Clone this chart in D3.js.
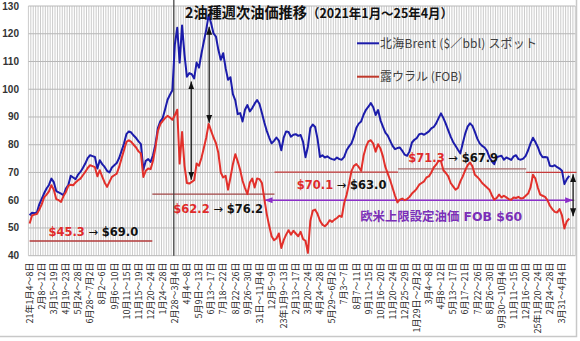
<!DOCTYPE html>
<html><head><meta charset="utf-8">
<script src="https://cdn.jsdelivr.net/npm/d3@7"></script>
<style>
html,body{margin:0;padding:0;background:#fff;}
svg{display:block;}
</style></head><body>
<svg id="chart" width="580" height="341"></svg>
<script>
// Weekly averages, $/bbl, from the week of 4–8 Jan 2021
const brent = [
  54.6, 55.5, 55.3, 55.6, 58.5, 60.5, 62.5, 64.2, 65.5, 67.8,
  66.5, 63.3, 62.8, 62.4, 61.8, 64.2, 65.5, 68.8, 68.2, 67.6,
  69.2, 70.2, 71.6, 73.2, 75.2, 76.2, 75.9, 75.6, 71.4, 74.4,
  73.0, 72.0, 70.6, 70.0, 71.8, 72.6, 73.4, 75.2, 77.8, 80.4,
  83.8, 84.8, 84.4, 83.3, 82.4, 81.2, 80.2, 71.0, 74.2, 74.8,
  73.8, 76.2, 80.2, 86.0, 88.4, 89.6, 92.8, 96.2, 98.0, 99.6,
  116.0, 122.2, 109.6, 123.0, 112.5, 104.5, 105.8, 105.4, 103.9, 109.6,
  107.8, 112.8, 117.2, 121.5, 126.8, 123.8, 120.1, 119.0, 114.2, 110.6,
  113.0, 107.6, 103.4, 104.3, 98.2, 96.0, 91.0, 91.4, 88.4, 92.6,
  94.3, 92.0, 93.2, 94.8, 96.1, 94.7, 91.4, 88.0, 85.0, 82.6,
  80.5, 81.4, 82.6, 81.5, 78.0, 82.6, 84.8, 84.6, 82.9, 83.6,
  83.8, 83.2, 83.5, 81.0, 75.5, 79.3, 86.0, 87.3, 86.4, 82.0,
  75.6, 76.2, 75.4, 75.8, 75.2, 74.8, 74.6, 75.4, 74.8, 74.6,
  75.6, 78.0, 79.4, 80.5, 82.9, 86.0, 87.6, 88.4, 90.8, 92.6,
  93.7, 95.0, 93.5, 90.7, 92.5, 88.8, 86.5, 84.4, 83.3, 81.4,
  79.6, 78.4, 78.8, 79.0, 77.8, 76.4, 76.0, 77.6, 80.8, 81.8,
  82.4, 83.8, 84.0, 83.6, 84.2, 84.8, 85.9, 86.4, 87.7, 89.6,
  91.3, 89.6, 87.5, 85.2, 82.9, 81.0, 79.6, 78.2, 76.9, 80.5,
  84.0, 86.5, 87.7, 86.8, 84.6, 82.2, 80.5, 79.6, 79.0, 77.8,
  75.5, 74.0, 73.0, 75.5, 75.8, 76.0, 74.6, 75.4, 75.0, 74.5,
  75.8, 76.2, 74.8, 74.6, 75.0, 76.0, 78.0, 80.5, 82.5, 81.0,
  79.2, 76.8, 75.5, 75.6, 75.4, 72.4, 72.2, 72.6, 71.9, 71.4,
  70.6, 65.8, 67.6, 68.8
];
const urals = [
  51.6, 54.5, 54.8, 55.0, 56.6, 58.5, 61.0, 62.0, 63.2, 65.4,
  63.8, 60.4, 60.0, 59.4, 61.5, 63.0, 65.2, 65.6, 65.4, 66.4,
  67.2, 67.8, 69.0, 70.2, 71.6, 72.6, 72.3, 71.9, 68.6, 70.8,
  68.5, 66.4, 64.8, 66.6, 68.4, 69.0, 69.6, 72.0, 75.0, 78.0,
  81.0, 81.6, 81.0, 80.0, 79.0, 77.6, 76.8, 68.4, 70.6, 71.4,
  71.2, 74.2, 79.0, 85.0, 87.4, 88.6, 89.6, 90.4, 89.8, 89.0,
  90.6, 92.6, 73.2, 84.6, 72.5, 66.2, 66.0, 66.6, 67.2, 73.2,
  72.4, 75.2, 78.8, 82.6, 87.5, 85.0, 82.6, 80.6, 77.0, 70.0,
  68.2, 68.8, 63.8, 68.2, 73.0, 76.6, 74.0, 71.0, 67.0, 64.4,
  62.2, 66.4, 67.8, 64.6, 67.8, 67.6, 66.2, 60.5, 55.0, 50.8,
  47.0, 45.6, 46.2, 48.0, 42.8, 45.6, 47.6, 49.2, 47.6, 49.0,
  48.0, 47.0, 48.6, 46.0, 45.4, 41.0, 52.5, 56.2, 56.6, 55.0,
  52.6, 51.2, 50.6, 51.4, 52.8, 52.2, 53.0, 53.6, 54.4, 54.0,
  59.0, 62.0, 66.0, 70.5, 72.4, 73.0, 72.0, 70.6, 76.0, 79.2,
  81.2, 81.6, 80.4, 77.5, 80.2, 78.6, 75.8, 72.0, 69.6, 67.2,
  64.4, 61.6, 59.2, 60.2, 60.6, 60.0, 60.4, 61.2, 62.4, 63.2,
  64.2, 65.6, 66.2, 66.8, 68.2, 68.6, 70.0, 71.8, 72.8, 74.2,
  74.0, 70.8, 69.8, 68.6, 66.2, 65.0, 63.8, 64.4, 66.8, 68.6,
  70.8, 72.6, 73.6, 72.2, 69.2, 68.4, 67.4, 66.2, 65.4, 64.6,
  63.8, 61.8, 60.2, 60.8, 62.0, 61.0, 61.6, 61.0, 60.4, 60.2,
  61.0, 60.8, 61.2, 60.6, 60.8, 61.6, 62.4, 64.6, 69.2, 67.8,
  64.6, 62.0, 61.6, 61.2, 60.0, 58.0, 56.8, 55.8, 55.6, 56.8,
  54.5, 49.8, 52.4, 53.4
];
// Category labels, one for every fifth week
const weekLabels = [
  "21年1月4～8日", "2月8～12日", "3月15～19日", "4月19～23日", "5月24～28日",
  "6月28～7月2日", "8月2～6日", "9月6～10日", "10月11～15日", "11月15～19日",
  "12月20～24日", "1月24～28日", "2月28～3月4日", "4月4～8日", "5月9日～13日",
  "6月13～17日", "7月18～22日", "8月22～26日", "9月26～30日", "31日～11月4日",
  "12月5～9日", "23年1月9～13日", "2月13～17日", "3月20～24日", "4月24～28日",
  "5月29～6月2日", "7月3～7日", "8月7～11日", "9月11～15日", "10月16～20日",
  "11月20～24日", "12月25～29日", "1月29日～2月2日", "3月4～8日", "4月8～12日",
  "5月13～17日", "6月17～21日", "7月22～26日", "8月26～30日", "9月30～10月4日",
  "11月11～15日", "12月16～20日", "25年1月20～24日", "2月24～28日", "3月31～4月4日"
];
const labelEvery = 5;
const categoryCount = 226;
const yTicks = [40, 50, 60, 70, 80, 90, 100, 110, 120, 130];

// Period reference levels (Urals) and the quoted start → end prices
const periodStart = [0, 50.7, 101.2, 152.2, 205.2];
const periodEnd   = [50.7, 101.2, 152.2, 205.2, 226];
const periodLevel = [45.3, 62.2, 70.1, 71.3, 70.0];
const quoteFrom = ["$45.3", "$62.2", "$70.1", "$71.3"];
const quoteTo   = ["$69.0", "$76.2", "$63.0", "$67.9"];

// Price cap and spread markers
const priceCap = 60;
const capSpan = [97.1, 224.6];
const invasionWeek = 59.6;
const spreadWeek = [66.8, 74.2, 224.6];
const spreadHigh = [102.8, 122.5, 69.4];
const spreadLow  = [67.4, 87.9, 54.2];

const svg = d3.select("#chart");
const plotLeft = 28.4, plotRight = 575.3, plotTop = 6, plotBottom = 255.7;
const x = d3.scaleLinear().domain([-0.5, categoryCount - 0.5]).range([plotLeft, plotRight]);
const y = d3.scaleLinear().domain([40, 130]).range([plotBottom, plotTop]);

const CJK = "'Noto Sans CJK JP', sans-serif";
const NUM = "'DejaVu Sans', 'Noto Sans CJK JP', sans-serif";

// outer frame
svg.append("rect").attr("x", -2).attr("y", -2).attr("width", 578.5).attr("height", 338.5)
  .attr("fill", "#fff").attr("stroke", "#c8c8c8").attr("stroke-width", 1.5);

// gridlines
const grid = svg.append("g");
grid.selectAll("line.v").data(d3.range(categoryCount + 1)).join("line")
  .attr("class", "v")
  .attr("x1", k => x(k - 0.5)).attr("x2", k => x(k - 0.5))
  .attr("y1", y(130)).attr("y2", y(40))
  .attr("stroke", "#cbcbcb").attr("stroke-width", 1);
grid.selectAll("line.h").data(yTicks).join("line")
  .attr("class", "h")
  .attr("x1", plotLeft).attr("x2", plotRight)
  .attr("y1", d => y(d)).attr("y2", d => y(d))
  .attr("stroke", "#b8b8b8").attr("stroke-width", 1);

// y axis labels
svg.append("g").selectAll("text").data(yTicks).join("text")
  .attr("x", 19).attr("y", d => y(d)).attr("dy", "0.35em")
  .attr("text-anchor", "end")
  .attr("font-family", "'Liberation Sans', Arial, sans-serif")
  .attr("font-size", 10).attr("font-weight", "bold").attr("fill", "#333")
  .text(d => d);

// x axis labels
svg.append("g").selectAll("text").data(weekLabels).join("text")
  .attr("transform", (d, j) => `translate(${x(j * labelEvery)},262.5) rotate(-90)`)
  .attr("dy", "0.36em").attr("text-anchor", "end")
  .attr("font-family", CJK).attr("font-size", 9).attr("fill", "#2a2a2a")
  .text(d => d);

// markers
const defs = svg.append("defs");
function arrowMarker(id, color) {
  defs.append("marker").attr("id", id)
    .attr("viewBox", "0 0 8 6").attr("refX", 8).attr("refY", 3)
    .attr("markerWidth", 8).attr("markerHeight", 6)
    .attr("markerUnits", "userSpaceOnUse")
    .attr("orient", "auto-start-reverse")
    .append("path").attr("d", "M0,0L8,3L0,6Z").attr("fill", color);
}
arrowMarker("arrBlack", "#111");
arrowMarker("arrPurple", "#8b2fc9");

// period reference lines
const periodColors = ["#b23a3a", "#a04444", "#c63b3b", "#a86a6a", "#c63b3b"];
svg.append("g").selectAll("line").data(periodLevel).join("line")
  .attr("x1", (d, k) => x(periodStart[k])).attr("x2", (d, k) => x(periodEnd[k]))
  .attr("y1", d => y(d)).attr("y2", d => y(d))
  .attr("stroke", (d, k) => periodColors[k]).attr("stroke-width", 1.3);

// price cap line
svg.append("line")
  .attr("x1", x(capSpan[0])).attr("x2", x(capSpan[1]))
  .attr("y1", y(priceCap)).attr("y2", y(priceCap))
  .attr("stroke", "#8b2fc9").attr("stroke-width", 1.5)
  .attr("marker-start", "url(#arrPurple)").attr("marker-end", "url(#arrPurple)");

// invasion marker
svg.append("line")
  .attr("x1", x(invasionWeek)).attr("x2", x(invasionWeek))
  .attr("y1", 0).attr("y2", y(40))
  .attr("stroke", "#3a3a3a").attr("stroke-width", 1.2);

// series lines
const line = d3.line().x((d, i) => x(i)).y(d => y(d));
svg.append("path").datum(brent).attr("d", line)
  .attr("fill", "none").attr("stroke", "#1c1cab").attr("stroke-width", 2)
  .attr("stroke-linejoin", "round");
svg.append("path").datum(urals).attr("d", line)
  .attr("fill", "none").attr("stroke", "#e2302b").attr("stroke-width", 2)
  .attr("stroke-linejoin", "round");

// spread arrows
svg.append("g").selectAll("line").data(spreadWeek).join("line")
  .attr("x1", d => x(d)).attr("x2", d => x(d))
  .attr("y1", (d, k) => y(spreadHigh[k])).attr("y2", (d, k) => y(spreadLow[k]))
  .attr("stroke", "#111").attr("stroke-width", 1.2)
  .attr("marker-start", "url(#arrBlack)").attr("marker-end", "url(#arrBlack)");

// quoted price changes per period
const quoteAt = [[7.8, 236], [59.4, 213.3], [110.4, 189.3], [156.5, 161.7]];
quoteFrom.forEach((q, k) => {
  const t = svg.append("text")
    .attr("x", x(quoteAt[k][0])).attr("y", quoteAt[k][1])
    .attr("font-family", NUM).attr("font-size", 11.5).attr("font-weight", "bold");
  t.append("tspan").attr("fill", "#e02b2b").text(q);
  t.append("tspan").attr("fill", "#111").attr("font-weight", "normal").text(" → ");
  t.append("tspan").attr("fill", "#111").text(quoteTo[k]);
});

// price cap caption
svg.append("text").attr("x", x(136.6)).attr("y", 220.7)
  .attr("font-family", NUM).attr("font-size", 12.4).attr("font-weight", "bold")
  .attr("fill", "#7b2fb8").text("欧米上限設定油価 FOB $60");

// title
svg.append("text").attr("x", 185).attr("y", 17.5)
  .attr("font-family", CJK).attr("font-weight", "bold").attr("fill", "#111")
  .attr("font-size", 14.6).attr("textLength", 122).attr("lengthAdjust", "spacingAndGlyphs")
  .text("2油種週次油価推移");
svg.append("text").attr("x", 307).attr("y", 17.5)
  .attr("font-family", CJK).attr("font-weight", "bold").attr("fill", "#111")
  .attr("font-size", 12.6).attr("textLength", 146).attr("lengthAdjust", "spacingAndGlyphs")
  .text("（2021年1月～25年4月）");

// legend
const legend = [
  { name: "北海Brent ($／bbl)  スポット", color: "#1c1cab", ly: 43.3 },
  { name: "露ウラル (FOB)", color: "#c0392b", ly: 76.7 }
];
const lg = svg.append("g").selectAll("g").data(legend).join("g");
lg.append("line").attr("x1", 357).attr("x2", 379)
  .attr("y1", d => d.ly).attr("y2", d => d.ly)
  .attr("stroke", d => d.color).attr("stroke-width", 2);
const legendText = lg.append("text").attr("x", 380).attr("y", d => d.ly).attr("dy", "0.36em")
  .attr("font-family", CJK).attr("font-size", 12).attr("fill", "#404040")
  .text(d => d.name);
// stretch the Brent entry to its full width
legendText.filter((d, k) => k === 0)
  .attr("textLength", 157).attr("lengthAdjust", "spacing");
</script>
</body></html>
